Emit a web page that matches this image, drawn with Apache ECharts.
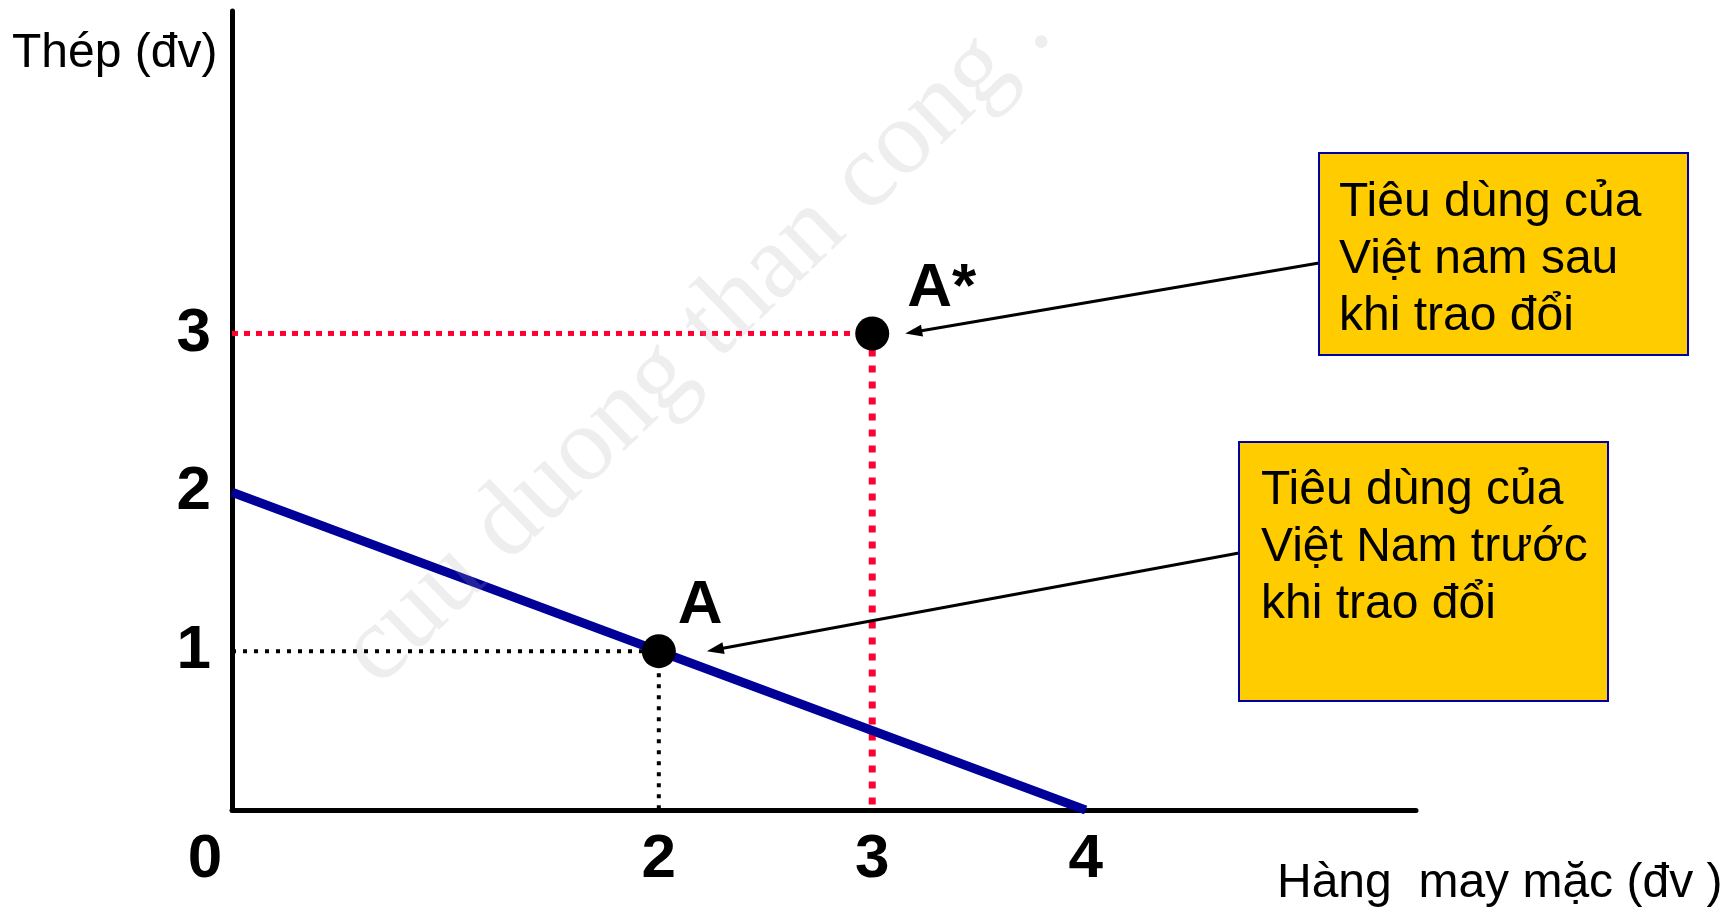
<!DOCTYPE html>
<html>
<head>
<meta charset="utf-8">
<script src="https://cdn.jsdelivr.net/npm/echarts@6/dist/echarts.min.js"></script>
<style>
html,body{margin:0;padding:0;background:#ffffff;}
#chart{width:1729px;height:912px;}
</style>
</head>
<body>
<div id="chart"></div>
<script>
// ---- data ----
const xTickValues = [0, 2, 3, 4];
const yTickValues = [1, 2, 3];
const ppfX = [0, 4];
const ppfY = [2, 0];
const pointNames = ['A', 'A*'];
const pointX = [2, 3];
const pointY = [1, 3];
const boxTexts = [
  'Tiêu dùng của\nViệt nam sau\nkhi trao đổi',
  'Tiêu dùng của\nViệt Nam trước\nkhi trao đổi'
];
const yAxisTitle = 'Thép (đv)';
const xAxisTitle = 'Hàng  may mặc (đv )';
const watermarkText = 'cuu duong than cong .';

// ---- chart ----
const FONT = '"Liberation Sans", Arial, sans-serif';
const chart = echarts.init(document.getElementById('chart'), null, {renderer: 'canvas'});

const tickLabelStyle = {
  color: '#000', fontSize: 62, fontWeight: 'bold', fontFamily: FONT
};

const option = {
  animation: false,
  backgroundColor: '#ffffff',
  grid: {left: 232, right: 313, top: 11, bottom: 102, containLabel: false},
  xAxis: {
    type: 'value', min: 0, max: 5.548, interval: 1,
    axisLine: {show: true, onZero: false, lineStyle: {color: '#000', width: 5}},
    axisTick: {show: false}, splitLine: {show: false},
    axisLabel: Object.assign({
      margin: 19,
      showMaxLabel: false,
      formatter: function (v) {
        if (xTickValues.indexOf(v) < 0) return '';
        return v === 0 ? '{z|0}' : String(v);
      },
      rich: {z: Object.assign({padding: [0, 54, 0, 0]}, tickLabelStyle)}
    }, tickLabelStyle)
  },
  yAxis: {
    type: 'value', min: 0, max: 5.03, interval: 1,
    axisLine: {show: true, onZero: false, lineStyle: {color: '#000', width: 5}},
    axisTick: {show: false}, splitLine: {show: false},
    axisLabel: Object.assign({
      margin: 21,
      showMaxLabel: false,
      formatter: function (v) {
        return yTickValues.indexOf(v) < 0 ? '' : String(v);
      }
    }, tickLabelStyle)
  },
  series: [
    { // red horizontal guide to A*
      type: 'line', silent: true, symbol: 'none', z: 2,
      data: [[0, pointY[1]], [pointX[1], pointY[1]]],
      lineStyle: {color: '#ff0033', width: 5, type: [6, 6]}
    },
    { // red vertical guide from A*
      type: 'line', silent: true, symbol: 'none', z: 2,
      data: [[pointX[1], pointY[1]], [pointX[1], 0]],
      lineStyle: {color: '#ff0033', width: 7, type: [7, 9]}
    },
    { // black horizontal guide to A
      type: 'line', silent: true, symbol: 'none', z: 2,
      data: [[0, pointY[0]], [pointX[0], pointY[0]]],
      lineStyle: {color: '#000', width: 4, type: [4, 7]}
    },
    { // black vertical guide from A
      type: 'line', silent: true, symbol: 'none', z: 2,
      data: [[pointX[0], pointY[0]], [pointX[0], 0]],
      lineStyle: {color: '#000', width: 4, type: [4, 7]}
    },
    { // production possibility line
      type: 'line', silent: true, symbol: 'none', z: 3,
      data: ppfX.map((x, i) => [x, ppfY[i]]),
      lineStyle: {color: '#000099', width: 9}
    },
    { // consumption points
      type: 'scatter', z: 5, symbolSize: 34, silent: true,
      itemStyle: {color: '#000', opacity: 1},
      data: pointX.map((x, i) => ({
        name: pointNames[i],
        value: [x, pointY[i]],
        label: {
          show: true, position: 'inside', align: 'left', verticalAlign: 'middle',
          offset: i === 0 ? [19, -45] : [35, -45],
          formatter: '{b}', color: '#000', opacity: 1, fontSize: 62, fontWeight: 'bold', fontFamily: FONT
        }
      }))
    }
  ]
};
chart.setOption(option);

// ---- annotations (boxes, arrows, titles, watermark) ----
function arrow(from, tip) {
  const dx = tip[0] - from[0], dy = tip[1] - from[1];
  const len = Math.hypot(dx, dy);
  const ux = dx / len, uy = dy / len;
  const hl = 17, hw = 6;
  const bx = tip[0] - ux * hl, by = tip[1] - uy * hl;
  return [
    {type: 'line', z: 40, silent: true,
     shape: {x1: from[0], y1: from[1], x2: bx + ux * 2, y2: by + uy * 2},
     style: {stroke: '#000', lineWidth: 3}},
    {type: 'polygon', z: 40, silent: true,
     shape: {points: [tip, [bx - uy * hw, by + ux * hw], [bx + uy * hw, by - ux * hw]]},
     style: {fill: '#000'}}
  ];
}
const pA = chart.convertToPixel({gridIndex: 0}, [pointX[0], pointY[0]]);
const pAS = chart.convertToPixel({gridIndex: 0}, [pointX[1], pointY[1]]);

const graphics = [];
graphics.push({
  type: 'text', x: 12, y: 54, z: 30, silent: true,
  style: {text: yAxisTitle, fill: '#000', fontSize: 48, fontFamily: FONT, align: 'left', verticalAlign: 'middle'}
});
graphics.push({
  type: 'text', x: 1277, y: 884, z: 30, silent: true,
  style: {text: xAxisTitle, fill: '#000', fontSize: 48, fontFamily: FONT, align: 'left', verticalAlign: 'middle'}
});
arrow([1319, 263], [pAS[0] + 33, pAS[1]]).forEach(g => graphics.push(g));
arrow([1239, 553], [pA[0] + 48, pA[1]]).forEach(g => graphics.push(g));
const boxes = [
  {x: 1319, y: 153, w: 369, h: 202, tx: 1339, ty: 174},
  {x: 1239, y: 442, w: 369, h: 259, tx: 1261, ty: 462}
];
boxes.forEach((b, i) => {
  graphics.push({
    type: 'rect', z: 50, silent: true,
    shape: {x: b.x, y: b.y, width: b.w, height: b.h},
    style: {fill: '#ffcc00', stroke: '#0000aa', lineWidth: 2}
  });
  graphics.push({
    type: 'text', z: 51, silent: true, x: b.tx, y: b.ty,
    style: {text: boxTexts[i], fill: '#000', fontSize: 48, fontFamily: FONT, lineHeight: 57, align: 'left', verticalAlign: 'top'}
  });
});
graphics.push({
  type: 'text', x: 697, y: 342, rotation: 44 * Math.PI / 180, z: 100, silent: true,
  style: {text: watermarkText, fill: 'rgba(170,170,170,0.2)', fontSize: 106,
          fontFamily: '"Liberation Serif", "Times New Roman", serif', align: 'center', verticalAlign: 'middle'}
});
chart.setOption({graphic: {elements: graphics}});
</script>
</body>
</html>
